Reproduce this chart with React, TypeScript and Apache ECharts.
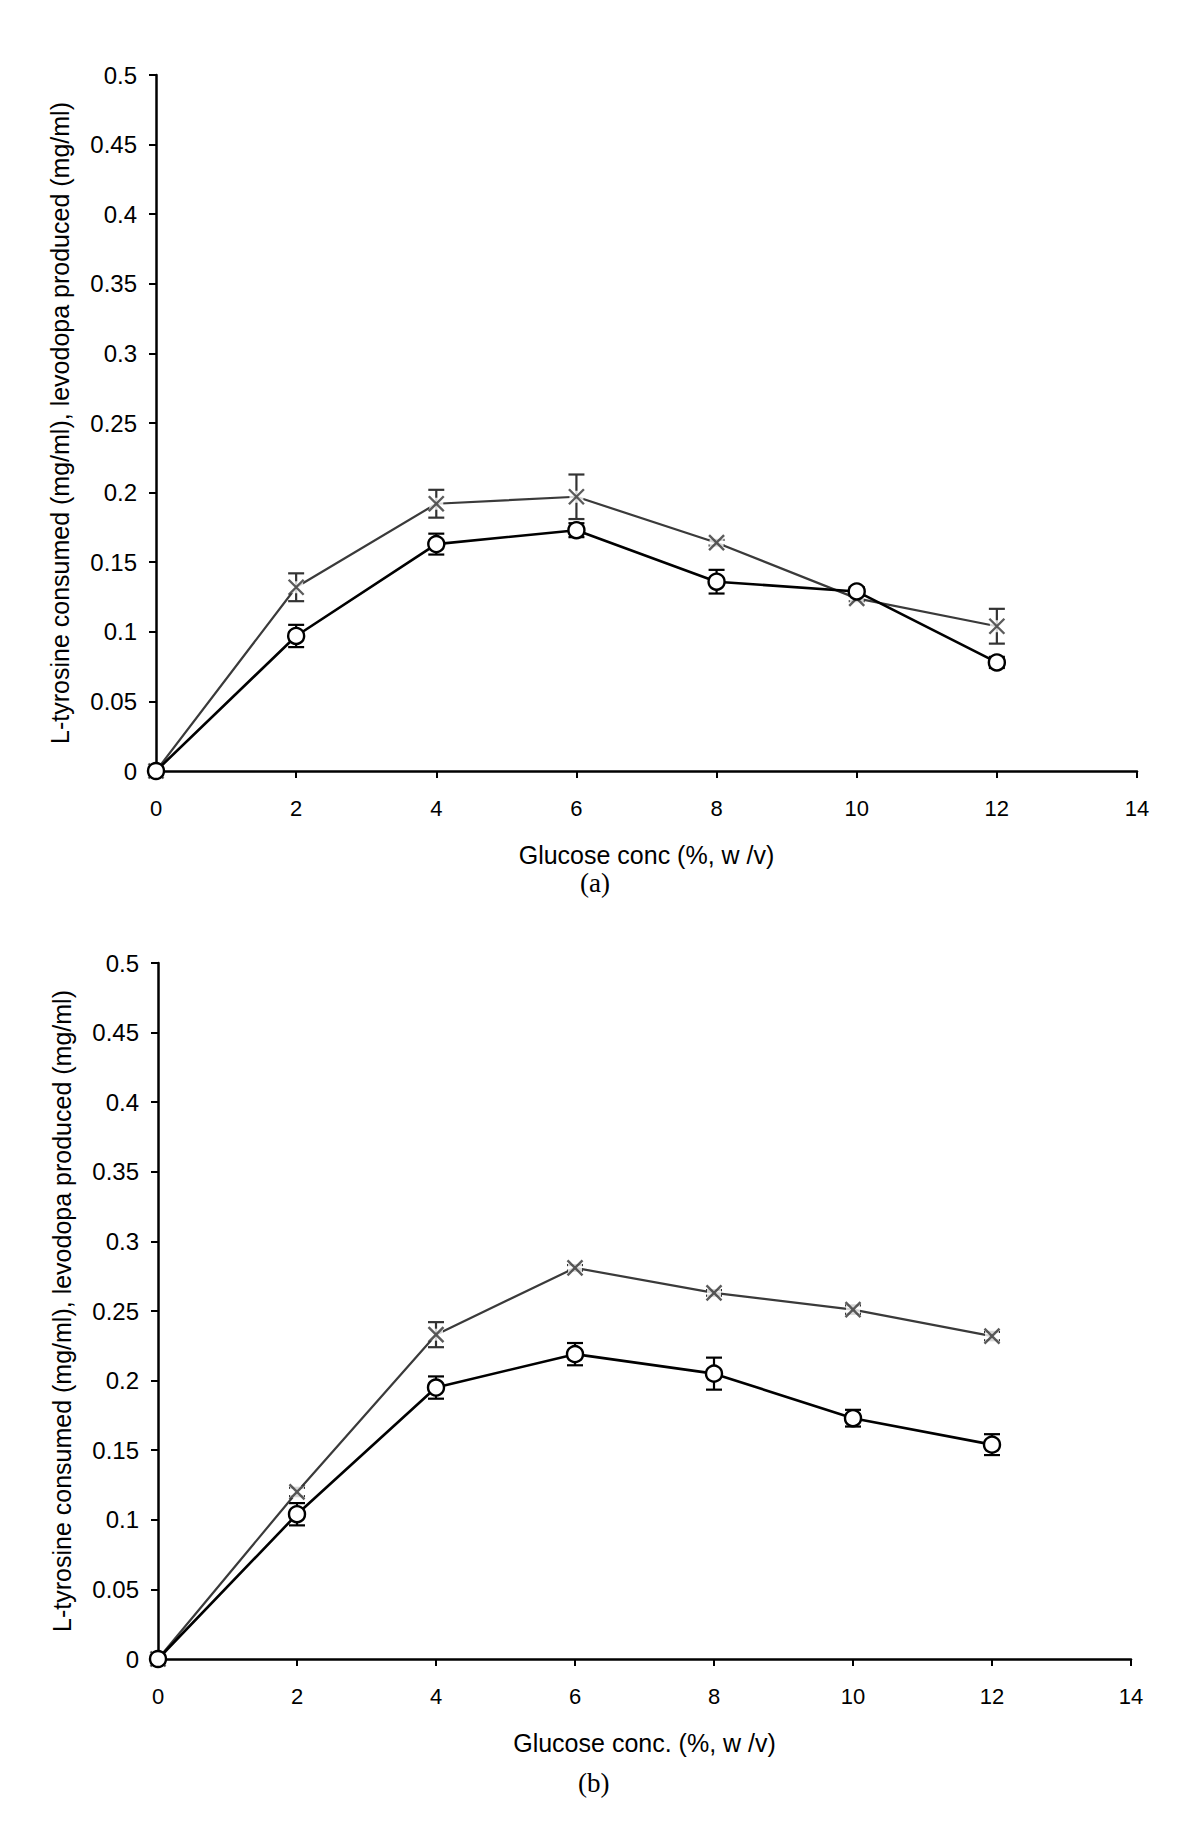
import React, { useEffect, useRef } from "react";
import * as echarts from "echarts";

const xValues = [0, 2, 4, 6, 8, 10, 12];
const xTicks = [0, 2, 4, 6, 8, 10, 12, 14];
const yTicks = [0, 0.05, 0.1, 0.15, 0.2, 0.25, 0.3, 0.35, 0.4, 0.45, 0.5];

// Panel (a)
const aCircle = [0, 0.097, 0.163, 0.173, 0.136, 0.129, 0.078];
const aCircleErr = [0, 0.008, 0.0075, 0.005, 0.0085, 0.003, 0.004];
const aCross = [0, 0.132, 0.192, 0.197, 0.164, 0.124, 0.104];
const aCrossErr = [0, 0.01, 0.01, 0.016, 0.002, 0.002, 0.0125];

// Panel (b)
const bCircle = [0, 0.104, 0.195, 0.219, 0.205, 0.173, 0.154];
const bCircleErr = [0, 0.008, 0.008, 0.008, 0.0115, 0.006, 0.0075];
const bCross = [0, 0.12, 0.233, 0.281, 0.263, 0.251, 0.232];
const bCrossErr = [0, 0.003, 0.009, 0.002, 0.002, 0.003, 0.003];

const yAxisName = "L-tyrosine consumed (mg/ml), levodopa produced (mg/ml)";
const xNameA = "Glucose conc (%, w /v)";
const xNameB = "Glucose conc. (%, w /v)";

const FONT = "Liberation Sans, Arial, sans-serif";
const CROSS_PATH = "path://M0,0L10,10M10,0L0,10";

function pairs(vals: number[]) {
  return xValues.map((x, i) => [x, vals[i]]);
}
function errData(vals: number[], errs: number[]) {
  return xValues
    .map((x, i) => [x, vals[i] - errs[i], vals[i] + errs[i], errs[i]])
    .filter((d) => d[3] > 0);
}

function errSeries(idx: number, vals: number[], errs: number[], color: string) {
  return {
    type: "custom",
    xAxisIndex: idx,
    yAxisIndex: idx,
    data: errData(vals, errs),
    encode: { x: 0, y: [1, 2] },
    z: 2,
    renderItem: (params: any, api: any) => {
      const x = api.value(0);
      const p1 = api.coord([x, api.value(1)]);
      const p2 = api.coord([x, api.value(2)]);
      const w = 8;
      const style = { stroke: color, lineWidth: 2.2, fill: "none" };
      return {
        type: "group",
        children: [
          { type: "line", shape: { x1: p1[0], y1: p1[1], x2: p2[0], y2: p2[1] }, style },
          { type: "line", shape: { x1: p1[0] - w, y1: p1[1], x2: p1[0] + w, y2: p1[1] }, style },
          { type: "line", shape: { x1: p2[0] - w, y1: p2[1], x2: p2[0] + w, y2: p2[1] }, style },
        ],
      };
    },
  };
}

function panelSeries(idx: number, circ: number[], circErr: number[], cross: number[], crossErr: number[]) {
  return [
    errSeries(idx, cross, crossErr, "#333333"),
    errSeries(idx, circ, circErr, "#000000"),
    {
      type: "line",
      xAxisIndex: idx,
      yAxisIndex: idx,
      data: pairs(cross),
      showSymbol: false,
      symbol: "none",
      z: 3,
      lineStyle: { color: "#3a3a3a", width: 2.2 },
    },
    {
      type: "scatter",
      xAxisIndex: idx,
      yAxisIndex: idx,
      data: pairs(cross),
      symbol: "rect",
      symbolSize: [14, 12],
      z: 4,
      itemStyle: { color: "#ffffff" },
    },
    {
      type: "scatter",
      xAxisIndex: idx,
      yAxisIndex: idx,
      data: pairs(cross),
      symbol: CROSS_PATH,
      symbolSize: [15, 15],
      z: 5,
      itemStyle: { color: "none", borderColor: "#333333", borderWidth: 2.4 },
    },
    {
      type: "line",
      xAxisIndex: idx,
      yAxisIndex: idx,
      data: pairs(circ),
      symbol: "circle",
      symbolSize: 16,
      showSymbol: true,
      z: 6,
      lineStyle: { color: "#000000", width: 2.6 },
      itemStyle: { color: "#ffffff", borderColor: "#000000", borderWidth: 2.4 },
    },
  ];
}

function xAxis(idx: number, name: string) {
  return {
    type: "value",
    gridIndex: idx,
    min: xTicks[0],
    max: xTicks[xTicks.length - 1],
    interval: 2,
    name,
    nameLocation: "middle",
    nameGap: 71,
    nameTextStyle: { fontFamily: FONT, fontSize: 25, color: "#000" },
    axisLine: { show: true, onZero: false, lineStyle: { color: "#000", width: 2.5 } },
    axisTick: { show: true, inside: false, length: 7, lineStyle: { color: "#000", width: 2 } },
    axisLabel: { fontFamily: FONT, fontSize: 22, color: "#000", margin: 26 },
    splitLine: { show: false },
  };
}

function yAxis(idx: number) {
  return {
    type: "value",
    gridIndex: idx,
    min: yTicks[0],
    max: yTicks[yTicks.length - 1],
    interval: 0.05,
    name: yAxisName,
    nameLocation: "middle",
    nameRotate: 90,
    nameGap: 84,
    nameTextStyle: { fontFamily: FONT, fontSize: 25, color: "#000" },
    axisLine: { show: true, onZero: false, lineStyle: { color: "#000", width: 2.5 } },
    axisTick: { show: true, inside: false, length: 7, lineStyle: { color: "#000", width: 2 } },
    axisLabel: {
      fontFamily: FONT,
      fontSize: 24,
      color: "#000",
      margin: 19,
      formatter: (v: number) => String(parseFloat(v.toFixed(2))),
    },
    splitLine: { show: false },
  };
}

export default function App() {
  const ref = useRef<HTMLDivElement>(null);
  useEffect(() => {
    document.body.style.margin = "0";
    const chart = echarts.init(ref.current!, null, { renderer: "svg" });
    chart.setOption({
      animation: false,
      backgroundColor: "#ffffff",
      grid: [
        { left: 156, right: 63, top: 75, height: 696, containLabel: false },
        { left: 158, right: 69, top: 963, height: 696, containLabel: false },
      ],
      xAxis: [xAxis(0, xNameA), xAxis(1, xNameB)],
      yAxis: [yAxis(0), yAxis(1)],
      series: [
        ...panelSeries(0, aCircle, aCircleErr, aCross, aCrossErr),
        ...panelSeries(1, bCircle, bCircleErr, bCross, bCrossErr),
      ],
      graphic: [
        {
          type: "text",
          left: 580,
          top: 869,
          style: { text: "(a)", font: "27px 'Liberation Serif', 'Times New Roman', serif", fill: "#000" },
        },
        {
          type: "text",
          left: 578,
          top: 1769,
          style: { text: "(b)", font: "27px 'Liberation Serif', 'Times New Roman', serif", fill: "#000" },
        },
      ],
    });
    return () => chart.dispose();
  }, []);
  return <div ref={ref} style={{ width: 1200, height: 1838 }} />;
}
